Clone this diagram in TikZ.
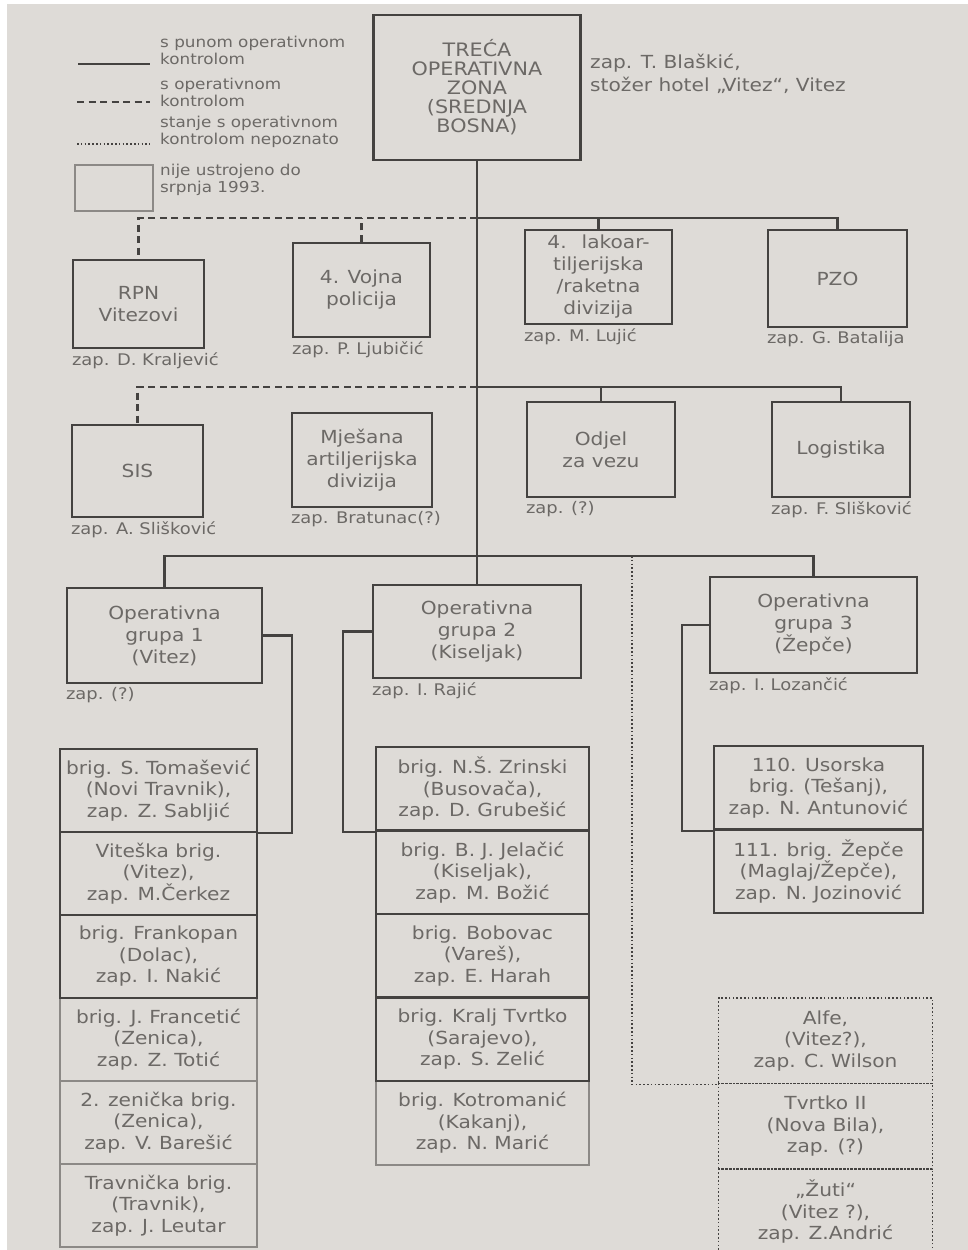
\documentclass[tikz,border=0pt]{standalone}
\usepackage{fontspec}
\setmainfont{DejaVu Sans}[FakeStretch=1.12]
\definecolor{pagec}{RGB}{222,219,215}
\definecolor{linec}{RGB}{68,66,64}
\definecolor{textc}{RGB}{108,105,102}
\definecolor{lightc}{RGB}{140,137,134}
\begin{document}
\begin{tikzpicture}[x=1pt,y=-1pt,
  box/.style={draw=linec,line width=2.4pt,text=textc,align=center,inner sep=0pt,
    font=\fontsize{18}{22}\selectfont},
  brig/.style={box,font=\fontsize{18}{21.5}\selectfont},
  lbox/.style={brig,draw=lightc,line width=2pt},
  dbox/.style={brig,draw=linec,line width=1.8pt,dash pattern=on 1.6pt off 2.2pt},
  lbl/.style={text=textc,inner sep=0pt,anchor=north west,align=left,
    font=\fontsize{16}{19}\selectfont},
  legtxt/.style={text=textc,inner sep=0pt,anchor=west,align=left,
    font=\fontsize{15}{17}\selectfont},
  solidc/.style={draw=linec,line width=2.3pt},
  dashc/.style={draw=linec,line width=2.3pt,dash pattern=on 7pt off 4.5pt},
  dotc/.style={draw=linec,line width=1.8pt,dash pattern=on 1.6pt off 2.2pt},
]
\useasboundingbox (0,0) rectangle (968,1250);
\fill[white] (0,0) rectangle (968,1250);
\fill[pagec] (7,4) rectangle (968,1250);

% ---------- legend ----------
\coordinate (ls1) at (78,64);  \coordinate (ls2) at (150,64);
\coordinate (ld1) at (77,102); \coordinate (ld2) at (150,102);
\coordinate (lt1) at (77,144); \coordinate (lt2) at (150,144);
\draw[solidc] (ls1) -- (ls2);
\draw[dashc] (ld1) -- (ld2);
\draw[dotc] (lt1) -- (lt2);
\node[legtxt] (leg1) at (160,50) {s punom operativnom\\kontrolom};
\node[legtxt] (leg2) at (160,92) {s operativnom\\kontrolom};
\node[legtxt] (leg3) at (160,132) {stanje s operativnom\\kontrolom nepoznato};
\node[lbox,minimum width=78pt,minimum height=46pt] (legbox) at (114,188) {};
\node[legtxt] (leg4) at (160,180) {nije ustrojeno do\\srpnja 1993.};

% ---------- top ----------
\node[box,minimum width=207pt,minimum height=145pt,font=\fontsize{18.5}{19}\selectfont]
  (top) at (477,87.5) {TREĆA\\OPERATIVNA\\ZONA\\(SREDNJA\\BOSNA)};
\node[lbl,font=\fontsize{18}{23}\selectfont] (topl) at (590,54)
  {zap. T. Blaškić,\\stožer hotel „Vitez“, Vitez};

% ---------- row 1 ----------
\node[box,minimum width=131pt,minimum height=88pt] (rpn) at (138.5,304) {RPN\\Vitezovi};
\node[box,minimum width=137pt,minimum height=94pt] (vojna) at (361.5,290) {4. Vojna\\policija};
\node[box,minimum width=147pt,minimum height=94pt] (lako) at (598.5,277)
  {4. \ lakoar-\\tiljerijska\\/raketna\\divizija};
\node[box,minimum width=139pt,minimum height=97pt] (pzo) at (837.5,278.5) {PZO};
\node[lbl] (rpnl) at ([yshift=-3pt]rpn.south west) {zap. D. Kraljević};
\node[lbl] (vojnal) at ([yshift=-3pt]vojna.south west) {zap. P. Ljubičić};
\node[lbl] (lakol) at ([yshift=-3pt]lako.south west) {zap. M. Lujić};
\node[lbl] (pzol) at ([yshift=-3pt]pzo.south west) {zap. G. Batalija};

% ---------- row 2 ----------
\node[box,minimum width=131pt,minimum height=92pt] (sis) at (137.5,471) {SIS};
\node[box,minimum width=140pt,minimum height=94pt] (mjes) at (362,460)
  {Mješana\\artiljerijska\\divizija};
\node[box,minimum width=148pt,minimum height=95pt] (odjel) at (601,449.5) {Odjel\\za vezu};
\node[box,minimum width=138pt,minimum height=95pt] (logi) at (841,449.5) {Logistika};
\node[lbl] (sisl) at ([yshift=-3pt]sis.south west) {zap. A. Slišković};
\node[lbl] (mjesl) at ([yshift=-3pt]mjes.south west) {zap. Bratunac(?)};
\node[lbl] (odjell) at ([yshift=-3pt]odjel.south west) {zap. (?)};
\node[lbl] (logil) at ([yshift=-3pt]logi.south west) {zap. F. Slišković};

% ---------- operative groups ----------
\node[box,minimum width=195pt,minimum height=95pt] (og1) at (164.5,635.5)
  {Operativna\\grupa 1\\(Vitez)};
\node[box,minimum width=208pt,minimum height=93pt] (og2) at (477,631.5)
  {Operativna\\grupa 2\\(Kiseljak)};
\node[box,minimum width=207pt,minimum height=96pt] (og3) at (813.5,625)
  {Operativna\\grupa 3\\(Žepče)};
\node[lbl] (og1l) at ([yshift=-3pt]og1.south west) {zap. (?)};
\node[lbl] (og2l) at ([yshift=-3pt]og2.south west) {zap. I. Rajić};
\node[lbl] (og3l) at ([yshift=-3pt]og3.south west) {zap. I. Lozančić};

% ---------- brigades: light (not yet established) first ----------
\node[lbox,minimum width=197pt,minimum height=83pt] (b14) at (158.5,1039.5)
  {brig. J. Francetić\\(Zenica),\\zap. Z. Totić};
\node[lbox,minimum width=197pt,minimum height=83pt] (b15) at (158.5,1122.5)
  {2. zenička brig.\\(Zenica),\\zap. V. Barešić};
\node[lbox,minimum width=197pt,minimum height=83pt] (b16) at (158.5,1205.5)
  {Travnička brig.\\(Travnik),\\zap. J. Leutar};
\node[lbox,minimum width=213pt,minimum height=83.5pt] (b25) at (482.5,1122.75)
  {brig. Kotromanić\\(Kakanj),\\zap. N. Marić};

\node[brig,minimum width=197pt,minimum height=83pt] (b11) at (158.5,790.5)
  {brig. S. Tomašević\\(Novi Travnik),\\zap. Z. Sabljić};
\node[brig,minimum width=197pt,minimum height=83pt] (b12) at (158.5,873.5)
  {Viteška brig.\\(Vitez),\\zap. M.Čerkez};
\node[brig,minimum width=197pt,minimum height=83pt] (b13) at (158.5,956.5)
  {brig. Frankopan\\(Dolac),\\zap. I. Nakić};

\node[brig,minimum width=213pt,minimum height=83.5pt] (b21) at (482.5,788.75)
  {brig. N.Š. Zrinski\\(Busovača),\\zap. D. Grubešić};
\node[brig,minimum width=213pt,minimum height=83.5pt] (b22) at (482.5,872.25)
  {brig. B. J. Jelačić\\(Kiseljak),\\zap. M. Božić};
\node[brig,minimum width=213pt,minimum height=83.5pt] (b23) at (482.5,955.75)
  {brig. Bobovac\\(Vareš),\\zap. E. Harah};
\node[brig,minimum width=213pt,minimum height=83.5pt] (b24) at (482.5,1039.25)
  {brig. Kralj Tvrtko\\(Sarajevo),\\zap. S. Zelić};

\node[brig,minimum width=209pt,minimum height=83.5pt] (b31) at (818.5,787.75)
  {110. Usorska\\brig. (Tešanj),\\zap. N. Antunović};
\node[brig,minimum width=209pt,minimum height=83.5pt] (b32) at (818.5,871.25)
  {111. brig. Žepče\\(Maglaj/Žepče),\\zap. N. Jozinović};

\node[dbox,minimum width=214pt,minimum height=85.5pt] (alfe) at (825.5,1040.75)
  {Alfe,\\(Vitez?),\\zap. C. Wilson};
\node[dbox,minimum width=214pt,minimum height=85.5pt] (tvrtko) at (825.5,1126.25)
  {Tvrtko II\\(Nova Bila),\\zap. (?)};
\node[dbox,minimum width=214pt,minimum height=85.5pt] (zuti) at (825.5,1211.75)
  {„Žuti“\\(Vitez ?),\\zap. Z.Andrić};

% ---------- connectors ----------
\coordinate (j1) at (477,218);
\coordinate (j2) at (477,387);
\coordinate (j3) at (477,556);
\coordinate (d0) at (632,556);
\coordinate (k1) at (292,0);
\coordinate (k2) at (343,0);
\coordinate (k3) at (682,0);

\draw[solidc] (top.south) -- (og2.north);

\draw[dashc] (j1) -| (rpn.north);
\draw[dashc] (vojna.north) -- (vojna.north |- j1);
\draw[solidc] (j1) -| (pzo.north);
\draw[solidc] (lako.north) -- (lako.north |- j1);

\draw[dashc] (j2) -| (sis.north);
\draw[solidc] (j2) -| (logi.north);
\draw[solidc] (odjel.north) -- (odjel.north |- j2);

\draw[solidc] (og1.north) |- (j3) -| (og3.north);
\draw[dotc] (d0) |- (alfe.south west);

\draw[solidc] (og1.east) -| (k1 |- b11.south east) -- (b11.south east);
\draw[solidc] (og2.west) -| (k2 |- b21.south west) -- (b21.south west);
\draw[solidc] (og3.west) -| (k3 |- b31.south west) -- (b31.south west);
\end{tikzpicture}
\end{document}
